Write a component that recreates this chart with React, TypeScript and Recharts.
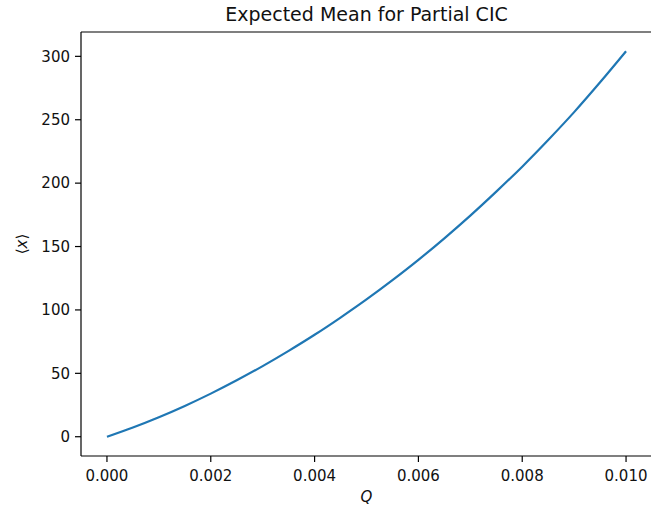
import React from 'react';
import { LineChart, Line, XAxis, YAxis } from 'recharts';

const qValues = [0, 0.0005, 0.001, 0.0015, 0.002, 0.0025, 0.003, 0.0035, 0.004, 0.0045, 0.005, 0.0055, 0.006, 0.0065, 0.007, 0.0075, 0.008, 0.0085, 0.009, 0.0095, 0.01];
const meanValues = [0, 7.3, 15.4, 24.3, 34, 44.5, 55.7, 67.7, 80.4, 94, 108.3, 123.5, 139.5, 156.5, 174.4, 193.3, 213, 234, 256, 279.5, 304];
const xTicks = [0, 0.002, 0.004, 0.006, 0.008, 0.01];
const yTicks = [0, 50, 100, 150, 200, 250, 300];

const data = qValues.map((q, i) => ({ q, mean: meanValues[i] }));

const FONT = '"DejaVu Sans", sans-serif';
const tickStyle = { fontSize: 15, fill: '#111', fontFamily: FONT };

const TitleLabel = (props: any) => {
  const vb = props.viewBox || {};
  return (
    <text x={vb.x + vb.width / 2} y={21} textAnchor="middle" fontSize={19} fontFamily={FONT} fill="#111">
      Expected Mean for Partial CIC
    </text>
  );
};

const XLabel = (props: any) => {
  const vb = props.viewBox || {};
  return (
    <text x={vb.x + vb.width / 2} y={502} textAnchor="middle" fontSize={15} fontFamily={FONT} fontStyle="italic" fill="#111">
      Q
    </text>
  );
};

const YLabel = (props: any) => {
  const vb = props.viewBox || {};
  const cx = 22;
  const cy = vb.y + vb.height / 2;
  return (
    <text x={cx} y={cy} transform={`rotate(-90 ${cx} ${cy})`} textAnchor="middle" dominantBaseline="central" fontSize={15} fontFamily={FONT} fill="#111">
      ⟨<tspan fontStyle="italic">x</tspan>⟩
    </text>
  );
};

export default function App() {
  return (
    <div style={{ position: 'absolute', left: 0, top: 0, width: 651, height: 513, background: '#fff', overflow: 'hidden' }}>
      <LineChart width={651} height={513} data={data} margin={{ top: 0, right: -1, bottom: 0, left: 0 }}>
        <XAxis
          xAxisId="top"
          orientation="top"
          dataKey="q"
          type="number"
          domain={[-0.0005, 0.0105]}
          height={32}
          tick={false}
          tickLine={false}
          axisLine={{ stroke: '#000', strokeWidth: 1.2 }}
          label={<TitleLabel />}
        />
        <XAxis
          dataKey="q"
          type="number"
          domain={[-0.0005, 0.0105]}
          ticks={xTicks}
          tickFormatter={(v: number) => v.toFixed(3)}
          height={57}
          tickSize={6}
          tickMargin={8}
          tick={tickStyle}
          tickLine={{ stroke: '#000', strokeWidth: 1.2 }}
          axisLine={{ stroke: '#000', strokeWidth: 1.2 }}
          allowDataOverflow
          label={<XLabel />}
        />
        <YAxis
          type="number"
          domain={[-15.2, 319.2]}
          ticks={yTicks}
          width={81}
          tickSize={6}
          tickMargin={5}
          tick={tickStyle}
          tickLine={{ stroke: '#000', strokeWidth: 1.2 }}
          axisLine={{ stroke: '#000', strokeWidth: 1.2 }}
          allowDataOverflow
          label={<YLabel />}
        />
        <Line
          type="monotone"
          dataKey="mean"
          xAxisId={0}
          stroke="#1f77b4"
          strokeWidth={2.2}
          dot={false}
          isAnimationActive={false}
        />
      </LineChart>
    </div>
  );
}
